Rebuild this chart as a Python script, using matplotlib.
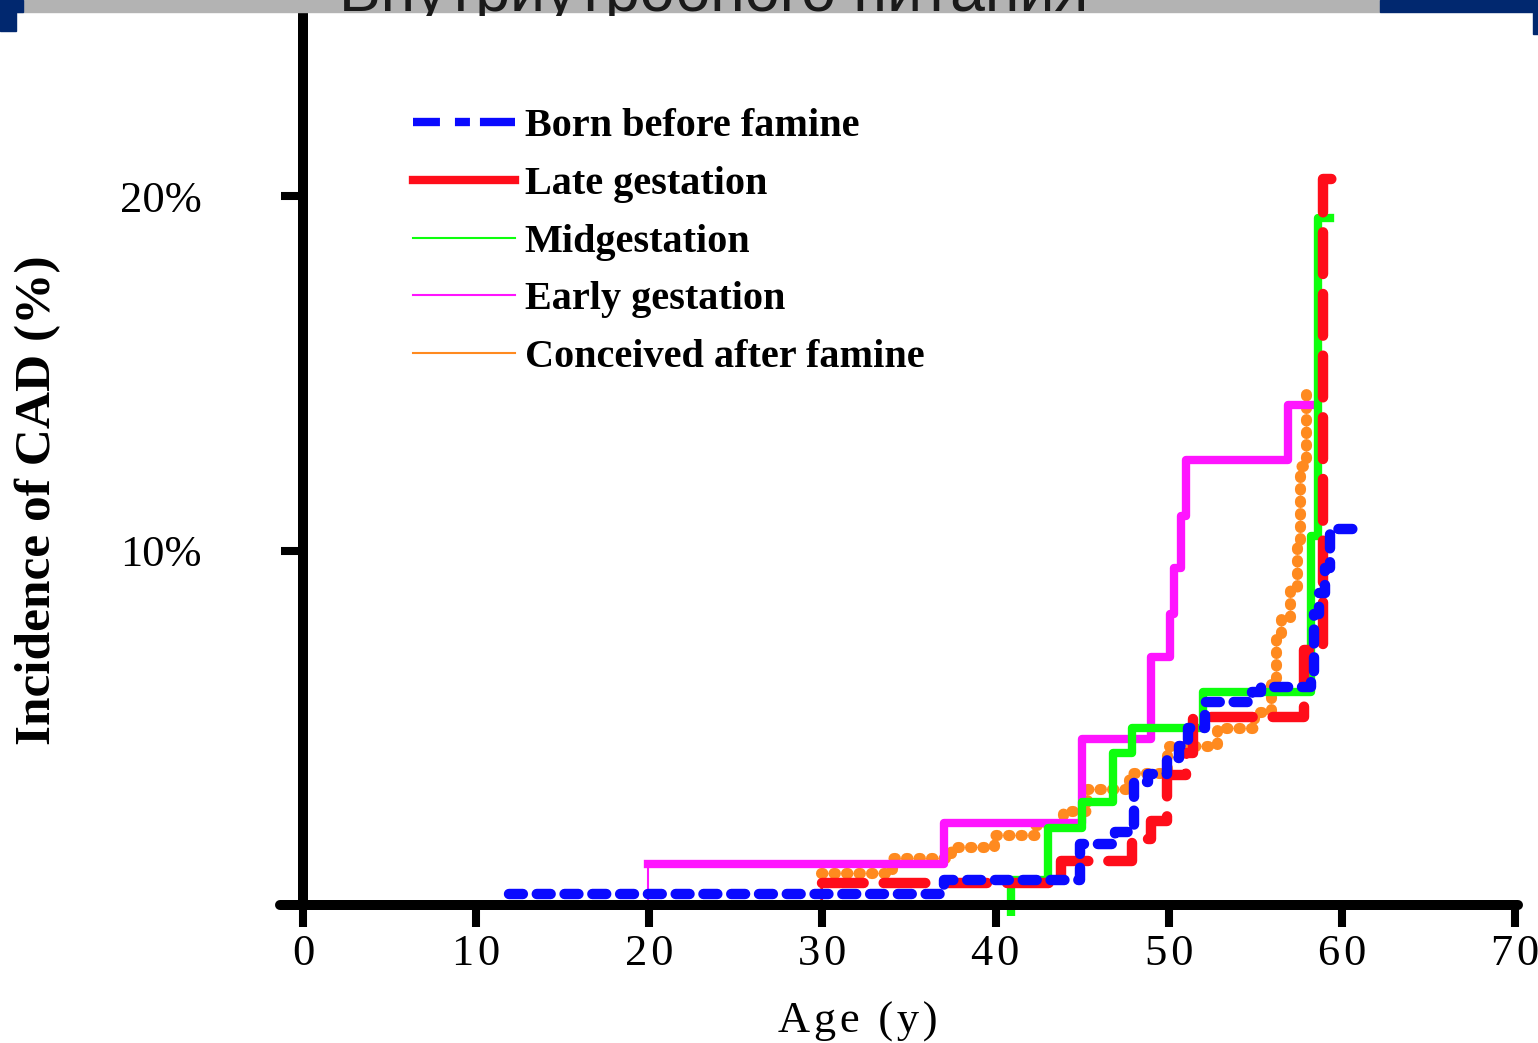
import numpy as np
import matplotlib.pyplot as plt
from matplotlib.lines import Line2D
from matplotlib.patches import Rectangle

plt.rcParams['lines.scale_dashes'] = False
serif = ['Liberation Serif', 'DejaVu Serif']

# cumulative incidence of CAD (%), step points by age (y)
born_x = [11.9, 37.0, 44.9, 46.9, 48.0, 48.8, 49.9, 50.6, 51.1, 52.1, 54.8, 55.3, 58.2, 58.4, 58.7, 59.0, 59.3, 61.0]
born_y = [0.31, 0.70, 1.72, 2.06, 3.47, 3.70, 4.14, 4.50, 5.00, 5.72, 6.00, 6.14, 6.50, 8.20, 8.80, 9.50, 10.6, 10.6]

late_x = [30.0, 43.8, 47.9, 49.0, 49.9, 51.0, 51.4, 57.8, 58.9, 59.6]
late_y = [0.62, 1.23, 1.85, 2.36, 3.66, 4.30, 5.30, 7.20, 20.5, 20.5]

mid_x = [40.9, 43.0, 45.0, 46.8, 47.9, 52.0, 58.2, 58.6, 59.3]
mid_y = [0.70, 2.17, 2.90, 4.30, 5.00, 6.00, 10.4, 19.4, 19.4]

early_x = [19.9, 37.0, 45.0, 49.0, 50.1, 50.3, 50.7, 51.0, 56.9, 58.3]
early_y = [1.15, 2.30, 4.68, 7.00, 8.20, 9.50, 10.97, 12.56, 14.1, 14.1]

after_x = [29.9, 34.0, 37.4, 39.9, 42.3, 43.9, 45.3, 47.7, 49.9, 52.8, 54.9, 55.9, 56.2, 56.5, 57.0, 57.4, 57.6, 57.9, 58.3]
after_y = [0.90, 1.33, 1.63, 1.97, 2.25, 2.65, 3.27, 3.72, 4.50, 5.00, 5.46, 6.33, 7.50, 8.10, 8.95, 10.1, 12.4, 14.5, 14.5]

labels = ['Born before famine', 'Late gestation', 'Midgestation', 'Early gestation', 'Conceived after famine']
x_ticks = [0, 10, 20, 30, 40, 50, 60, 70]
y_ticks = [10, 20]

blue = '#0a0aff'
red = '#ff0d1a'
green = '#0dff0d'
magenta = '#ff14ff'
orange = '#ff8a1f'
navy = '#01286f'

W, H = 1538, 1043
fig = plt.figure(figsize=(15.38, 10.43), dpi=100)

def fx(px):
    return px / W

def fy(py):
    return 1 - py / H

# main plot
ax = fig.add_axes([fx(280), fy(905), fx(1518) - fx(280), (905 - 12) / H])
ax.set_facecolor('none')
ax.set_xlim(-1.33, 70.17)
ax.set_ylim(0, 25.2)

# slide banner cut off at the top
fig.patches.append(Rectangle((0, fy(12)), fx(1380), 12 / H, transform=fig.transFigure,
                             color='#b3b3b3', zorder=1))
fig.patches.append(Rectangle((0, fy(12)), fx(23), 12 / H, transform=fig.transFigure,
                             color=navy, zorder=1))
fig.patches.append(Rectangle((0, fy(31)), fx(16), 31 / H, transform=fig.transFigure,
                             color=navy, zorder=1))
fig.patches.append(Rectangle((fx(1380), fy(12)), 1 - fx(1380), 12 / H, transform=fig.transFigure,
                             color=navy, zorder=1))
fig.patches.append(Rectangle((fx(1533), fy(34)), 1 - fx(1533), 34 / H, transform=fig.transFigure,
                             color=navy, zorder=1))
ax_ban = fig.add_axes([0, fy(16), 1, 16 / H], zorder=2)
ax_ban.axis('off')
ax_ban.text(0.464, 0.31, 'Внутриутробного питания', ha='center', va='baseline',
            fontsize=45, color='#1a1a1a', family=['Liberation Sans', 'DejaVu Sans'], clip_on=True)

# thin start verticals
ax.vlines(after_x[0], 0, after_y[0], color=orange, lw=1.5, zorder=2)
ax.vlines(early_x[0], 0, early_y[0], color=magenta, lw=1.5, zorder=2)
ax.vlines(late_x[0], 0, late_y[0], color=red, lw=1.5, zorder=2)
ax.vlines(mid_x[0], -0.3, mid_y[0], color=green, lw=6, zorder=3, clip_on=False)

ax.plot(after_x, after_y, drawstyle='steps-post', color=orange, lw=8,
        dashes=(1, 8), dash_capstyle='round', zorder=2)
ax.plot(early_x, early_y, drawstyle='steps-post', color=magenta, lw=6, zorder=3)
ax.plot(mid_x, mid_y, drawstyle='steps-post', color=green, lw=6, zorder=4)
ax.plot(late_x, late_y, drawstyle='steps-post', color=red, lw=7.5,
        dashes=(30, 14.4), dash_capstyle='round', zorder=5)
ax.plot(born_x, born_y, drawstyle='steps-post', color=blue, lw=7.5,
        dashes=(10, 10), dash_capstyle='round', zorder=6)

# axes styling
for s in ['top', 'right']:
    ax.spines[s].set_visible(False)
ax.spines['left'].set_position(('data', 0))
for s in ['left', 'bottom']:
    ax.spines[s].set_linewidth(7.2)
    ax.spines[s].set_capstyle('round')
    ax.spines[s].set_zorder(7)

ax.set_xticks(x_ticks)
ax.set_xticklabels(['\u200a'.join(str(t)) for t in x_ticks], family=serif, fontsize=32)
ax.set_yticks(y_ticks)
ax.set_yticklabels(['%d%%' % t for t in y_ticks], family=serif, fontsize=32)
ax.tick_params(axis='x', direction='out', length=16, width=5.8, pad=5)
ax.tick_params(axis='y', direction='out', length=16, width=5.8, pad=57)

# legend
handles = [
    Line2D([], [], color=blue, lw=6, dashes=(19.4, 10.8, 10.8, 7.2, 30, 0)),
    Line2D([], [], color=red, lw=6),
    Line2D([], [], color=green, lw=1.5),
    Line2D([], [], color=magenta, lw=1.5),
    Line2D([], [], color=orange, lw=1.5),
]
ax.legend(handles, labels, loc='upper left', bbox_to_anchor=(fx(413), fy(108)),
          bbox_transform=fig.transFigure, frameon=False,
          prop={'family': serif, 'weight': 'bold', 'size': 29},
          handlelength=2.52, handletextpad=0.25, labelspacing=0.51,
          borderpad=0, borderaxespad=0)

fig.text(fx(858), fy(1033), '\u200a'.join('Age (y)'), ha='center', va='baseline',
         family=serif, fontsize=32)
fig.text(fx(38), fy(500), 'Incidence of CAD (%)', rotation=90, ha='center', va='center',
         family=serif, weight='bold', fontsize=37)

fig.savefig('out.png', dpi=100)
